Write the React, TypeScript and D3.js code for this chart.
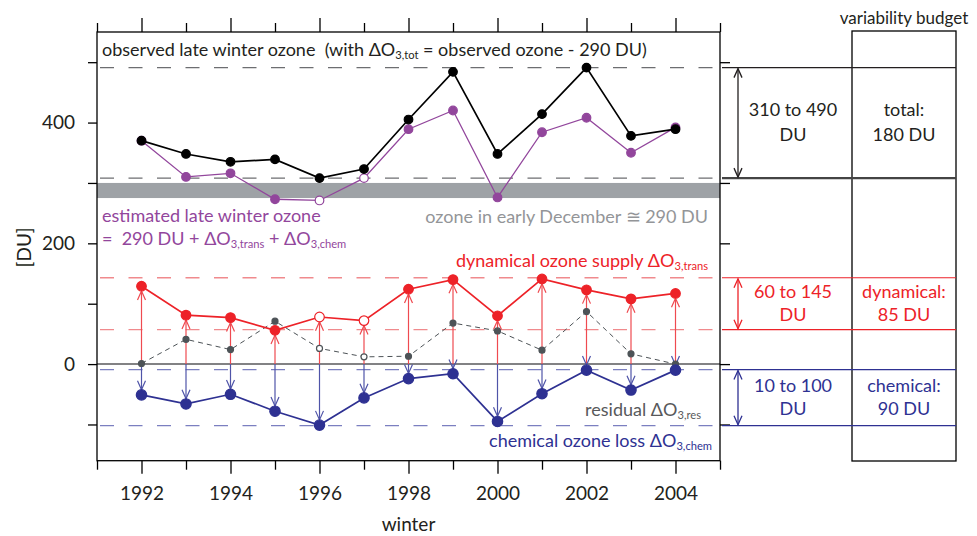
import React, { useRef, useEffect } from "react";
import * as d3 from "d3";

// winters and ozone columns in DU
const winters = [1992, 1993, 1994, 1995, 1996, 1997, 1998, 1999, 2000, 2001, 2002, 2003, 2004];
const observed = [370, 348, 335, 339, 308, 323, 405, 484, 348, 414, 491, 378, 389];
const estimated = [370, 310, 316, 273, 271, 308, 389, 420, 276, 384, 408, 350, 392];
const transport = [129, 81, 77, 56, 78, 72, 124, 140, 80, 141, 123, 108, 117];
const chemical = [-51, -66, -50, -78, -101, -56, -24, -16, -95, -49, -10, -43, -10];
const residual = [1, 41, 24, 71, 26, 12, 13, 68, 55, 23, 87, 17, 0];
const hollowWinters = [1996, 1997];

// ranges shown as dashed lines and in the budget panel
const totalRange = [308, 491];
const transRange = [57, 143];
const chemRange = [-102, -9];
const decemberBand = [275, 300];
const baseline = 0;

const leftTicks = [-100, 0, 100, 200, 300, 400, 500];
const leftLabels = [0, 200, 400];
const rightTicks = [-100, 0, 200, 300, 500];
const yearTicks = d3.range(1991, 2006);
const yearLabels = [1992, 1994, 1996, 1998, 2000, 2002, 2004];

const budgetRows = [
  { range: totalRange, left: ["310 to 490", "DU"], right: ["total:", "180 DU"], color: "#231f20" },
  { range: transRange, left: ["60 to 145", "DU"], right: ["dynamical:", "85 DU"], color: "#ed2228" },
  { range: chemRange, left: ["10 to 100", "DU"], right: ["chemical:", "90 DU"], color: "#2e3192" },
];

const FONT = "Lato, 'Open Sans', sans-serif";

const App = () => {
  const svgRef = useRef<SVGSVGElement | null>(null);

  useEffect(() => {
    if (!svgRef.current) return;
    const svg = d3.select(svgRef.current);
    svg.selectAll("*").remove();

    const x = d3.scaleLinear().domain([1991, 2005]).range([97, 720]);
    const y = d3.scaleLinear().domain([-160, 550]).range([460.7, 32]);
    const [x0, x1] = x.range();
    const [yb, yt] = y.range();

    // text with subscripts: parts = [text, isSub]
    const label = (px: number, py: number, parts: [string, boolean][], fill: string, anchor = "start", size = 18) => {
      const t = svg
        .append("text")
        .attr("x", px)
        .attr("y", py)
        .attr("fill", fill)
        .attr("text-anchor", anchor)
        .style("white-space", "pre")
        .style("font-size", size + "px");
      let shifted = false;
      parts.forEach(([s, sub]) => {
        const span = t.append("tspan").text(s).style("font-size", (sub ? size * 0.62 : size) + "px");
        if (sub && !shifted) { span.attr("dy", 3); shifted = true; }
        else if (!sub && shifted) { span.attr("dy", -3); shifted = false; }
      });
    };

    // gray band for early December ozone
    svg
      .append("rect")
      .attr("x", x0)
      .attr("width", x1 - x0)
      .attr("y", y(decemberBand[1]))
      .attr("height", y(decemberBand[0]) - y(decemberBand[1]))
      .attr("fill", "#9ea2a6");

    // dashed range lines
    const dashed = (v: number, color: string) =>
      svg
        .append("line")
        .attr("x1", x0).attr("x2", x1)
        .attr("y1", y(v)).attr("y2", y(v))
        .attr("stroke", color)
        .attr("stroke-width", 1.3)
        .attr("stroke-dasharray", "14,14.5")
        .attr("stroke-dashoffset", -3);
    totalRange.forEach((v) => dashed(v, "#6d6e71"));
    transRange.forEach((v) => dashed(v, "#f08a8d"));
    chemRange.forEach((v) => dashed(v, "#7b7fc0"));

    // zero line
    svg
      .append("line")
      .attr("x1", x0).attr("x2", x1)
      .attr("y1", y(baseline)).attr("y2", y(baseline))
      .attr("stroke", "#58595b")
      .attr("stroke-width", 1.5);

    // arrows from the zero line to transport and chemistry points
    const chevron = (px: number, tip: number, dir: number) =>
      `M${px - 4},${tip + dir * 9}L${px},${tip}L${px + 4},${tip + dir * 9}`;
    const arrows = (vals: number[], color: string, r: number) => {
      const g = svg.append("g").attr("stroke", color).attr("fill", "none").attr("stroke-width", 1.2);
      winters.forEach((w, i) => {
        const dir = vals[i] > 0 ? 1 : -1;
        const tip = y(vals[i]) + dir * r;
        g.append("line").attr("x1", x(w)).attr("x2", x(w)).attr("y1", y(baseline)).attr("y2", tip);
        g.append("path").attr("d", chevron(x(w), tip, dir));
      });
    };
    arrows(transport, "#ef4a50", 4.8);
    arrows(chemical, "#4f54a8", 5.2);

    // series
    const series = [
      { vals: residual, color: "#4d5357", width: 1, dash: "5,4", r: 3, hollow: true },
      { vals: estimated, color: "#92469c", width: 1.3, dash: null, r: 4.3, hollow: true },
      { vals: observed, color: "#000000", width: 1.7, dash: null, r: 4.3, hollow: false },
      { vals: transport, color: "#ed2228", width: 1.7, dash: null, r: 4.8, hollow: true },
      { vals: chemical, color: "#2e3192", width: 1.7, dash: null, r: 5.2, hollow: false },
    ];
    const line = d3.line<number>().x((_, i) => x(winters[i])).y((v) => y(v));
    series.forEach((s) => {
      svg
        .append("path")
        .attr("d", line(s.vals))
        .attr("fill", "none")
        .attr("stroke", s.color)
        .attr("stroke-width", s.width)
        .attr("stroke-dasharray", s.dash);
      svg
        .append("g")
        .selectAll("circle")
        .data(s.vals)
        .join("circle")
        .attr("cx", (_, i) => x(winters[i]))
        .attr("cy", (v) => y(v))
        .attr("r", s.r)
        .attr("fill", (_, i) => (s.hollow && hollowWinters.includes(winters[i]) ? "#fff" : s.color))
        .attr("stroke", s.color)
        .attr("stroke-width", 1.2);
    });

    // frame
    svg
      .append("rect")
      .attr("x", x0).attr("y", yt)
      .attr("width", x1 - x0).attr("height", yb - yt)
      .attr("fill", "none")
      .attr("stroke", "#000")
      .attr("stroke-width", 1.3);

    // axes
    const styleAxis = (g: any) => {
      g.select(".domain").remove();
      g.selectAll("line").attr("stroke", "#000").attr("stroke-width", 1.3);
      g.selectAll("text").attr("fill", "#231f20").style("font-family", FONT).style("font-size", "19px");
    };
    const majorYears = yearTicks.filter((d) => d % 2 === 0);
    const minorYears = yearTicks.filter((d) => d % 2 !== 0);
    svg.append("g").attr("transform", `translate(0,${yt})`)
      .call(d3.axisTop(x).tickValues(majorYears).tickSize(14).tickFormat(() => "")).call(styleAxis);
    svg.append("g").attr("transform", `translate(0,${yt})`)
      .call(d3.axisTop(x).tickValues(minorYears).tickSize(9).tickFormat(() => "")).call(styleAxis);
    svg.append("g").attr("transform", `translate(0,${yb})`)
      .call(d3.axisBottom(x).tickValues(majorYears).tickSize(13).tickPadding(13)
        .tickFormat((d: any) => (yearLabels.includes(d) ? String(d) : ""))).call(styleAxis);
    svg.append("g").attr("transform", `translate(0,${yb})`)
      .call(d3.axisBottom(x).tickValues(minorYears).tickSize(9).tickFormat(() => "")).call(styleAxis);
    svg.append("g").attr("transform", `translate(${x0},0)`)
      .call(d3.axisLeft(y).tickValues(leftTicks).tickSize(9).tickPadding(13)
        .tickFormat((d: any) => (leftLabels.includes(d) ? String(d) : ""))).call(styleAxis);
    svg.append("g").attr("transform", `translate(${x1},0)`)
      .call(d3.axisRight(y).tickValues(rightTicks).tickSize(10).tickFormat(() => "")).call(styleAxis);

    svg.append("text")
      .attr("transform", `translate(31,${(yt + yb) / 2 + 1}) rotate(-90)`)
      .attr("text-anchor", "middle")
      .attr("fill", "#231f20")
      .style("font-size", "19px")
      .text("[DU]");
    svg.append("text")
      .attr("x", (x0 + x1) / 2).attr("y", 531)
      .attr("text-anchor", "middle")
      .attr("fill", "#231f20")
      .style("font-size", "19px")
      .text("winter");

    // annotations
    label(102, 56, [["observed late winter ozone  (with \u0394O", false], ["3,tot", true], [" = observed ozone - 290 DU)", false]], "#231f20");
    label(102, 222, [["estimated late winter ozone", false]], "#92469c");
    label(102, 245, [["=  290 DU + \u0394O", false], ["3,trans", true], [" + \u0394O", false], ["3,chem", true]], "#92469c");
    label(708, 223, [["ozone in early December \u2245 290 DU", false]], "#939598", "end");
    label(708, 267, [["dynamical ozone supply \u0394O", false], ["3,trans", true]], "#ed2228", "end");
    label(701, 416, [["residual \u0394O", false], ["3,res", true]], "#58595b", "end");
    label(712, 447, [["chemical ozone loss \u0394O", false], ["3,chem", true]], "#2e3192", "end");

    // variability budget panel
    const bx0 = 852, bx1 = 956;
    svg.append("rect")
      .attr("x", bx0).attr("y", 31).attr("width", bx1 - bx0).attr("height", 430)
      .attr("fill", "none").attr("stroke", "#000").attr("stroke-width", 1.3);
    label((bx0 + bx1) / 2, 24, [["variability budget", false]], "#231f20", "middle", 17);

    budgetRows.forEach((row, k) => {
      const [lo, hi] = row.range;
      [lo, hi].forEach((v, j) =>
        svg.append("line")
          .attr("x1", 722).attr("x2", bx1)
          .attr("y1", y(v)).attr("y2", y(v))
          .attr("stroke", k === 0 && j === 0 ? "#444" : row.color)
          .attr("stroke-width", k === 0 && j === 0 ? 2.2 : 1.2)
      );
      const ax = 738;
      const g = svg.append("g").attr("stroke", row.color).attr("fill", "none").attr("stroke-width", 1.3);
      g.append("line").attr("x1", ax).attr("x2", ax).attr("y1", y(hi) + 1).attr("y2", y(lo) - 1);
      g.append("path").attr("d", chevron(ax, y(hi) + 1, 1));
      g.append("path").attr("d", chevron(ax, y(lo) - 1, -1));
      const mid = (y(lo) + y(hi)) / 2;
      const gap = k === 0 ? 25 : 22.5;
      label(793, mid - gap / 2 + 6, [[row.left[0], false]], row.color, "middle", 18);
      label(793, mid + gap / 2 + 6, [[row.left[1], false]], row.color, "middle", 18);
      label((bx0 + bx1) / 2, mid - gap / 2 + 6, [[row.right[0], false]], row.color, "middle", 18);
      label((bx0 + bx1) / 2, mid + gap / 2 + 6, [[row.right[1], false]], row.color, "middle", 18);
    });
  }, []);

  return (
    <svg
      ref={svgRef}
      width={977}
      height={536}
      style={{ position: "absolute", left: 0, top: 0, fontFamily: FONT, background: "#fff" }}
    />
  );
};

export default App;
